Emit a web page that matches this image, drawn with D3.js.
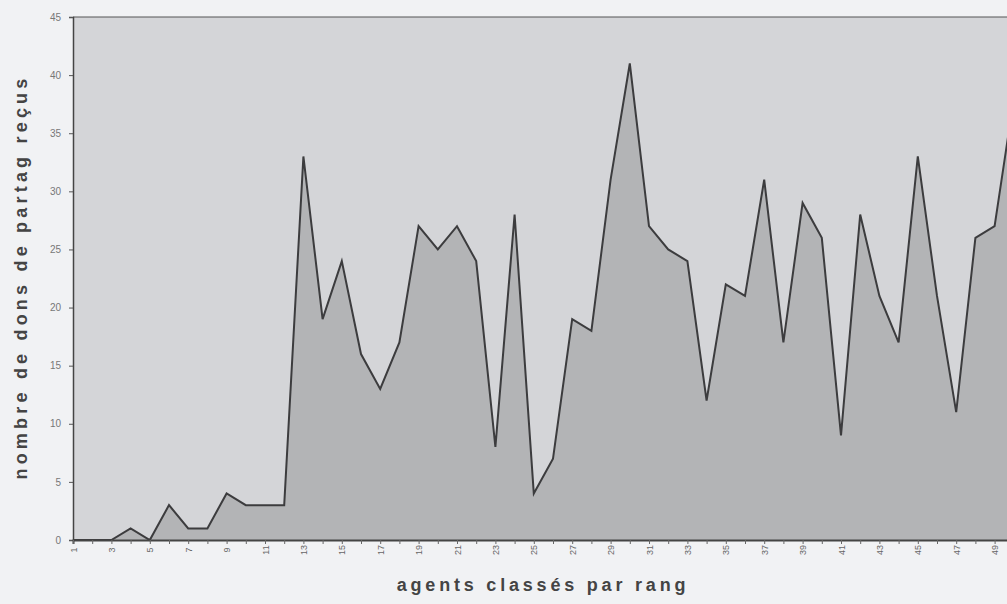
<!DOCTYPE html>
<html><head><meta charset="utf-8">
<script src="https://cdn.jsdelivr.net/npm/d3@7"></script>
<style>
html,body{margin:0;padding:0;background:#f1f2f4;}
svg{display:block;}
</style></head>
<body>
<svg id="c" width="1007" height="604"></svg>
<script>
const ranks = d3.range(1, 51);
const dons = [0,0,0,1,0,3,1,1,4,3,3,3,33,19,24,16,13,17,27,25,27,24,8,28,4,7,19,18,31,41,27,25,24,12,22,21,31,17,29,26,9,28,21,17,33,21,11,26,27,38];
const yTicks = [0,5,10,15,20,25,30,35,40,45];
const xTitle = "agents classés par rang";
const yTitle = "nombre de dons de partag reçus";

const svg = d3.select("#c");
const mLeft = 73, mTop = 17, mBottom = 540;
const step = 19.2;
const x = d3.scaleLinear().domain([1, 50]).range([mLeft, mLeft + 49 * step]);
const y = d3.scaleLinear().domain([0, 45]).range([mBottom, mTop]);

// plot background
svg.append("rect").attr("x", x(1)).attr("y", y(45))
  .attr("width", x(50) - x(1)).attr("height", y(0) - y(45))
  .attr("fill", "#d4d5d8");

const pts = ranks.map((r, i) => ({r, v: dons[i]}));
svg.append("path").datum(pts)
  .attr("fill", "#b3b4b6")
  .attr("d", d3.area().x(d => x(d.r)).y0(y(0)).y1(d => y(d.v)));
svg.append("path").datum(pts)
  .attr("fill", "none").attr("stroke", "#3c3c3e").attr("stroke-width", 2)
  .attr("stroke-linejoin", "miter")
  .attr("d", d3.line().x(d => x(d.r)).y(d => y(d.v)));

// top border
svg.append("line").attr("x1", x(1)).attr("x2", x(50)).attr("y1", y(45)).attr("y2", y(45))
  .attr("stroke", "#555").attr("stroke-width", 1.2);

// y axis
const ya = svg.append("g").attr("transform", `translate(${mLeft},0)`)
  .call(d3.axisLeft(y).tickValues(yTicks).tickSize(4).tickPadding(8));
ya.select(".domain").attr("stroke", "#444").attr("stroke-width", 1.5);
ya.selectAll(".tick line").attr("stroke", "#555");
ya.selectAll("text").attr("font-family", "Liberation Sans, Arial, sans-serif")
  .attr("font-size", 10).attr("fill", "#777");

// x axis
const xa = svg.append("g").attr("transform", `translate(0,${mBottom})`)
  .call(d3.axisBottom(x).tickValues(ranks).tickSize(4)
    .tickFormat(d => d % 2 === 1 ? d : ""));
xa.select(".domain").attr("stroke", "#444").attr("stroke-width", 2);
xa.selectAll(".tick line").attr("stroke", "#666");
xa.selectAll("text")
  .attr("font-family", "Liberation Sans, Arial, sans-serif")
  .attr("font-size", 9).attr("fill", "#666")
  .attr("text-anchor", "middle")
  .attr("y", null)
  .attr("transform", "translate(0,10) rotate(-90)")
  .attr("dy", "0.35em");

// titles
svg.append("text").attr("x", 543).attr("y", 591)
  .attr("text-anchor", "middle")
  .attr("font-family", "Liberation Sans, Arial, sans-serif")
  .attr("font-weight", "bold").attr("font-size", 18)
  .attr("letter-spacing", 3.8).attr("fill", "#444")
  .text(xTitle);
svg.append("text")
  .attr("transform", "translate(21,277) rotate(-90)")
  .attr("text-anchor", "middle").attr("dy", "0.35em")
  .attr("font-family", "Liberation Sans, Arial, sans-serif")
  .attr("font-weight", "bold").attr("font-size", 18)
  .attr("letter-spacing", 4.2).attr("fill", "#444")
  .text(yTitle);
</script>
</body></html>
